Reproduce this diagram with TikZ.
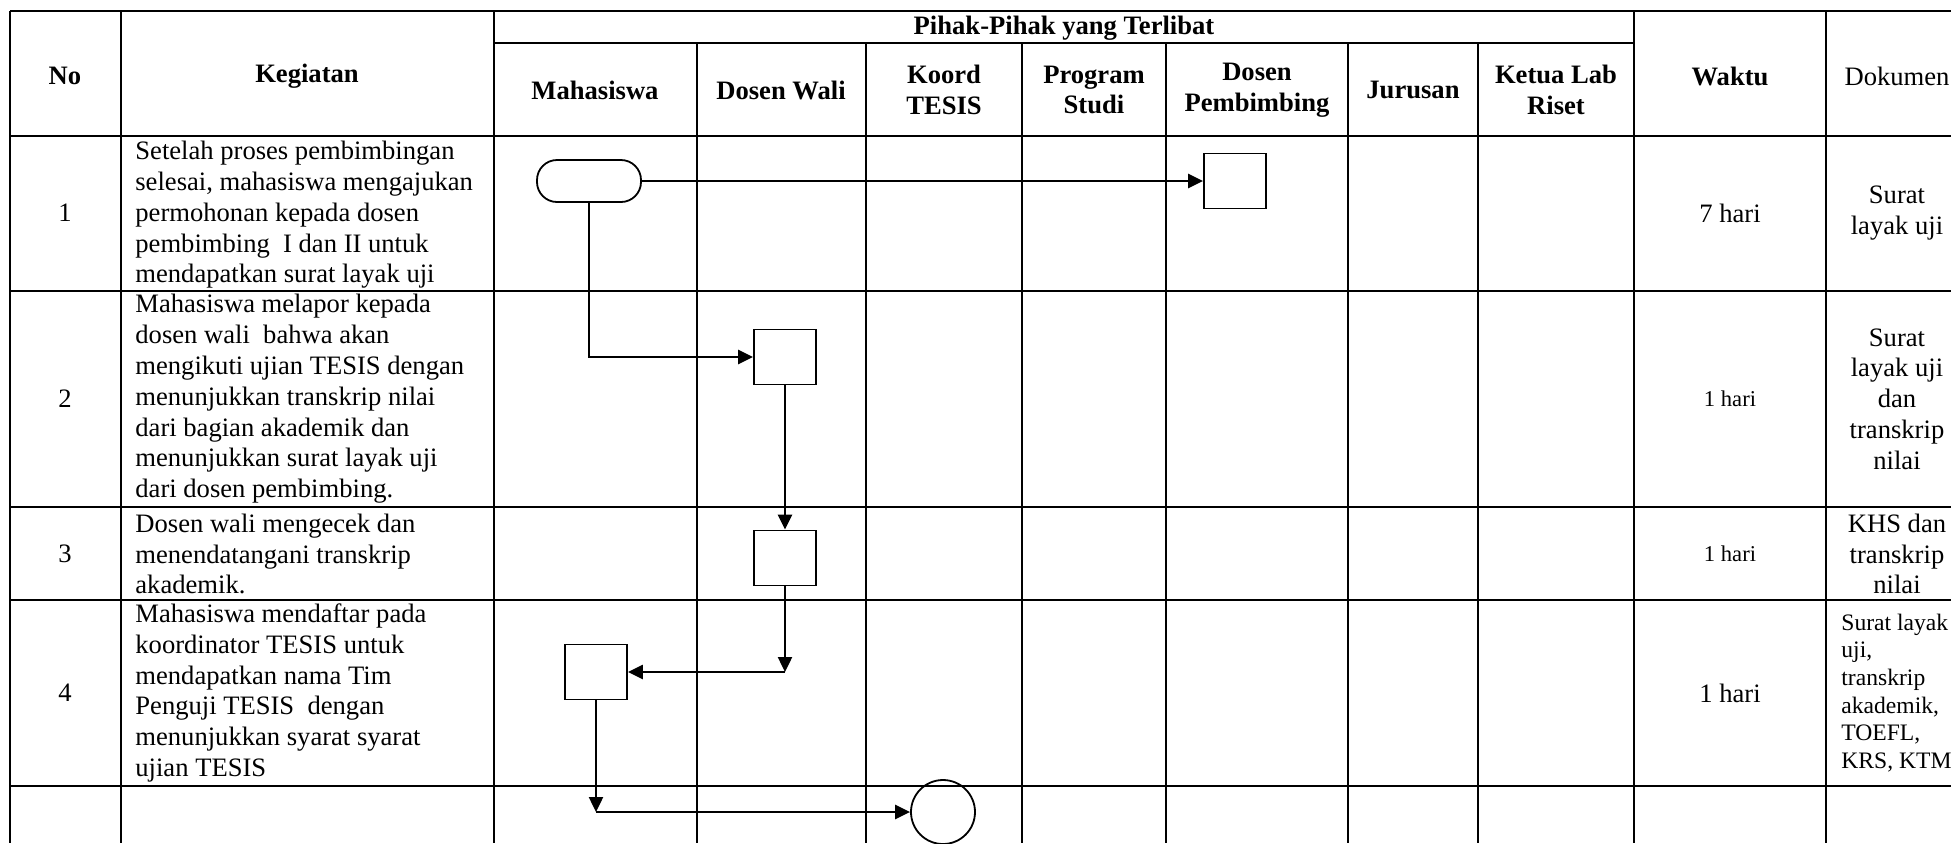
\documentclass[tikz,border=0pt]{standalone}
\usepackage{fontspec}
\setmainfont{Liberation Serif}
\usetikzlibrary{arrows.meta}
\newcommand\bodyfont{\fontsize{13.3}{15.4}\selectfont}
\newcommand\smallbody{\fontsize{11.3}{13.6}\selectfont}
\newcommand\dokfont{\fontsize{11.8}{13.8}\selectfont}
\tikzset{
  tbl/.style={line width=1.1pt},
  flow/.style={line width=1.2pt},
  proc/.style={draw, line width=0.9pt, minimum width=31pt, minimum height=27.5pt, inner sep=0pt},
  cell/.style={font=\bodyfont, align=center, inner sep=0pt},
  hd/.style={font=\bodyfont\bfseries, align=center, inner sep=0pt},
  keg/.style={font=\bodyfont, align=left, anchor=west, inner sep=0pt}
}
\begin{document}
\begin{tikzpicture}[>={Triangle[length=7.5pt,width=7pt]}, x=0.5pt, y=-0.5pt]
\useasboundingbox (0,0) rectangle (1951,843);
\clip (0,0) rectangle (1951,843);
\draw[tbl] (10,11)--(1975,11) (494,43)--(1634,43) (10,136)--(1975,136) (10,291)--(1975,291)
  (10,507)--(1975,507) (10,600)--(1975,600) (10,786)--(1975,786);
\draw[tbl] (10,11)--(10,843) (121,11)--(121,843) (494,11)--(494,843) (1634,11)--(1634,843) (1826,11)--(1826,843);
\draw[tbl] (697,43)--(697,843) (866,43)--(866,843) (1022,43)--(1022,843) (1166,43)--(1166,843)
  (1348,43)--(1348,843) (1478,43)--(1478,843);

\node[hd] (hNo) at (65,76) {No};
\node[hd] (hKeg) at (307,76) {Kegiatan};
\node[hd] (hPihak) at (1064,28) {Pihak-Pihak yang Terlibat};
\node[hd] (hMhs) at (595,90) {Mahasiswa};
\node[hd] (hWali) at (781,90) {Dosen Wali};
\node[hd] (hKoord) at (944,90) {Koord\\TESIS};
\node[hd] (hProdi) at (1094,90) {Program\\Studi};
\node[hd] (hPemb) at (1257,90) {Dosen\\Pembimbing};
\node[hd] (hJur) at (1413,90) {Jurusan};
\node[hd] (hLab) at (1556,90) {Ketua Lab\\Riset};
\node[hd] (hWaktu) at (1730,76) {Waktu};
\node[cell] (hDok) at (1897,76) {Dokumen};

\node[cell] (no1) at (65,213) {1};
\node[keg] (keg1) at (135,215) {Setelah proses pembimbingan\\selesai, mahasiswa mengajukan\\permohonan kepada dosen\\pembimbing\ \ I dan II untuk\\mendapatkan surat layak uji};
\node[cell] (wkt1) at (1730,213) {7 hari};
\node[cell] (dok1) at (1897,213) {Surat\\layak uji};

\node[cell] (no2) at (65,399) {2};
\node[keg] (keg2) at (135,399) {Mahasiswa melapor kepada\\dosen wali\ \ bahwa akan\\mengikuti ujian TESIS dengan\\menunjukkan transkrip nilai\\dari bagian akademik dan\\menunjukkan surat layak uji\\dari dosen pembimbing.};
\node[cell, font=\smallbody] (wkt2) at (1730,399) {1 hari};
\node[cell] (dok2) at (1897,399) {Surat\\layak uji\\dan\\transkrip\\nilai};

\node[cell] (no3) at (65,554) {3};
\node[keg] (keg3) at (135,554) {Dosen wali mengecek dan\\menendatangani transkrip\\akademik.};
\node[cell, font=\smallbody] (wkt3) at (1730,554) {1 hari};
\node[cell] (dok3) at (1897,554) {KHS dan\\transkrip\\nilai};

\node[cell] (no4) at (65,693) {4};
\node[keg] (keg4) at (135,693) {Mahasiswa mendaftar pada\\koordinator TESIS untuk\\mendapatkan nama Tim\\Penguji TESIS\ \ dengan\\menunjukkan syarat syarat\\ujian TESIS};
\node[cell] (wkt4) at (1730,693) {1 hari};
\node[keg, font=\dokfont] (dok4) at (1841,693) {Surat layak\\uji,\\transkrip\\akademik,\\TOEFL,\\KRS, KTM};

\node[draw, line width=0.9pt, rounded corners=10pt, minimum width=52pt, minimum height=21pt] (t1) at (589,181) {};
\node[proc] (b1) at (1235,181) {};
\node[proc] (b2) at (785,357) {};
\node[proc] (b3) at (785,558) {};
\node[proc] (b4) at (596,672) {};
\node[draw, circle, line width=0.9pt, minimum size=32pt] (c5) at (943,812) {};

\draw[flow,->] (t1) -- (b1);
\draw[flow,->] (t1.south) |- (b2.west);
\draw[flow,->] (b2) -- (b3);
\coordinate (k4) at (b3.south |- b4.east);
\draw[flow,->] (b3) -- (k4);
\draw[flow,->] (k4) -- (b4);
\coordinate (k5) at (b4.south |- c5.west);
\draw[flow,->] (b4) -- (k5);
\draw[flow,->] (k5) -- (c5);
\end{tikzpicture}
\end{document}
